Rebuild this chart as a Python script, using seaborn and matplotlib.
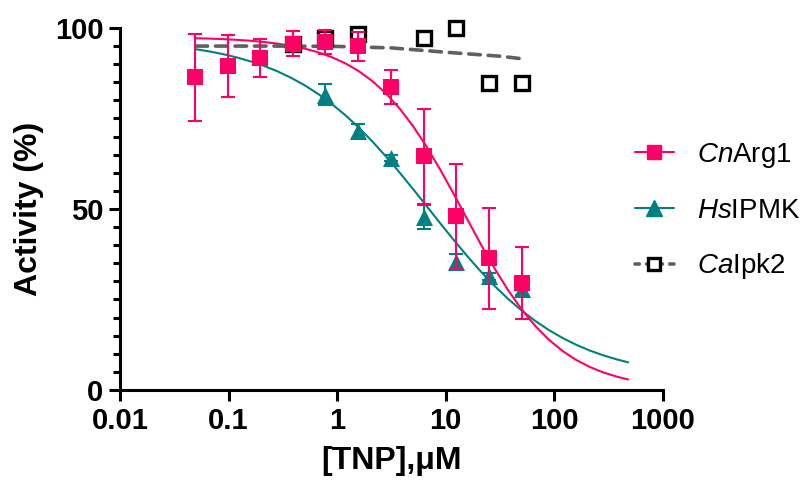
import numpy as np
import pandas as pd
import matplotlib
matplotlib.use("Agg")
import matplotlib.pyplot as plt
import seaborn as sns
from matplotlib.lines import Line2D
from matplotlib.ticker import FixedLocator, MultipleLocator, FixedFormatter

# Concentrations of TNP (uM), two-fold dilution series
conc = [0.049, 0.098, 0.195, 0.39, 0.78, 1.5625, 3.125, 6.25, 12.5, 25, 50]

# CnArg1 (pink squares) mean and error
cn_mean = [86.4, 89.5, 91.7, 95.7, 96.1, 95.0, 83.7, 64.5, 48.0, 36.4, 29.6]
cn_err = [12.0, 8.5, 5.3, 3.4, 3.3, 4.0, 4.8, 13.0, 14.5, 14.0, 10.0]

# HsIPMK (teal triangles)
hs_conc = [0.78, 1.5625, 3.125, 6.25, 12.5, 25, 50]
hs_mean = [81.6, 71.6, 64.0, 47.8, 35.3, 31.4, 27.8]
hs_err = [2.8, 2.0, 0.8, 3.2, 2.2, 1.0, 1.5]

# CaIpk2 (open black squares)
ca_conc = [0.39, 0.78, 1.5625, 6.25, 12.5, 25, 50]
ca_mean = [95.7, 97.3, 98.4, 97.2, 100.0, 84.7, 84.9]

# fitted curves (log10 of concentration)
fit_logx = [-1.3, -1.175, -1.05, -0.925, -0.8, -0.675, -0.55, -0.425, -0.3,
            -0.175, -0.05, 0.075, 0.2, 0.325, 0.45, 0.575, 0.7, 0.825, 0.95,
            1.075, 1.2, 1.325, 1.45, 1.575, 1.7, 1.825, 1.95, 2.075, 2.2,
            2.325, 2.45, 2.575, 2.68]
cn_fit = [97.17, 97.06, 96.92, 96.72, 96.47, 96.13, 95.68, 95.09, 94.30,
          93.28, 91.95, 90.24, 88.06, 85.31, 81.90, 77.74, 72.83, 67.15, 60.84,
          54.06, 47.07, 40.14, 33.56, 27.53, 22.22, 17.67, 13.88, 10.79, 8.32,
          6.38, 4.86, 3.69, 2.92]
hs_fit = [94.13, 93.51, 92.77, 91.87, 90.80, 89.53, 88.03, 86.25, 84.18,
          81.78, 79.03, 75.92, 72.45, 68.62, 64.47, 60.07, 55.47, 50.76, 46.03,
          41.39, 36.91, 32.67, 28.74, 25.15, 21.92, 19.06, 16.55, 14.38, 12.51,
          10.92, 9.58, 8.45, 7.64]
ca_fit_logx = [-1.3, -1.0, -0.5, 0.0, 0.5, 1.0, 1.5, 1.7]
ca_fit = [95.0, 95.0, 95.0, 94.9, 94.5, 93.3, 92.2, 91.5]

x_ticks = [0.01, 0.1, 1, 10, 100, 1000]
x_tick_labels = ["0.01", "0.1", "1", "10", "100", "1000"]
y_ticks = [0, 50, 100]

PINK = "#FF0066"
TEAL = "#008080"
GRAY = "#606060"

sns.set_style("ticks")
plt.rcParams["font.family"] = ["Liberation Sans", "DejaVu Sans"]
plt.rcParams["mathtext.fontset"] = "custom"
plt.rcParams["mathtext.rm"] = "Liberation Sans"
plt.rcParams["mathtext.it"] = "Liberation Sans:italic"
for key in ["text.color", "axes.labelcolor", "xtick.color", "ytick.color", "axes.edgecolor"]:
    plt.rcParams[key] = "black"

fig = plt.figure(figsize=(8.02, 4.84), dpi=100)
ax = fig.add_axes([0.1496, 0.1942, 0.677, 0.748])

# fitted curves
cn_curve = pd.DataFrame({"x": np.power(10.0, fit_logx), "y": cn_fit})
hs_curve = pd.DataFrame({"x": np.power(10.0, fit_logx), "y": hs_fit})
ca_curve = pd.DataFrame({"x": np.power(10.0, ca_fit_logx), "y": ca_fit})

sns.lineplot(data=hs_curve, x="x", y="y", color=TEAL, linewidth=1.5, ax=ax, zorder=2)
sns.lineplot(data=cn_curve, x="x", y="y", color=PINK, linewidth=1.5, ax=ax, zorder=3)
sns.lineplot(data=ca_curve, x="x", y="y", color=GRAY, linewidth=2.6, ax=ax, zorder=4,
             dashes=False)
ax.lines[-1].set_dashes([3.2, 2.2])
ax.lines[-1].set_dash_capstyle("round")

# CaIpk2 points
ax.plot(ca_conc, ca_mean, linestyle="none", marker="s", markersize=10.5,
        markerfacecolor="white", markeredgecolor="black", markeredgewidth=2.4,
        zorder=5, clip_on=False)

# HsIPMK points with error bars
ax.errorbar(hs_conc, hs_mean, yerr=hs_err, fmt="none", ecolor=TEAL,
            elinewidth=1.5, capsize=5.2, capthick=1.5, zorder=6)
sns.scatterplot(x=hs_conc, y=hs_mean, marker="^", s=150, color=TEAL,
                edgecolor=TEAL, linewidth=0, ax=ax, zorder=7)

# CnArg1 points with error bars
ax.errorbar(conc, cn_mean, yerr=cn_err, fmt="none", ecolor=PINK,
            elinewidth=1.5, capsize=5.2, capthick=1.5, zorder=8, clip_on=False)
sns.scatterplot(x=conc, y=cn_mean, marker="s", s=120, color=PINK,
                edgecolor=PINK, linewidth=0, ax=ax, zorder=9, clip_on=False)

ax.set_xscale("log")
ax.set_xlim(0.01, 1000)
ax.set_ylim(0, 100)
ax.xaxis.set_major_locator(FixedLocator(x_ticks))
ax.xaxis.set_major_formatter(FixedFormatter(x_tick_labels))
ax.xaxis.set_minor_locator(FixedLocator([]))
ax.yaxis.set_major_locator(FixedLocator(y_ticks))
ax.yaxis.set_minor_locator(MultipleLocator(5))

for s in ["top", "right"]:
    ax.spines[s].set_visible(False)
for s in ["left", "bottom"]:
    ax.spines[s].set_linewidth(2.2)

ax.tick_params(axis="both", which="major", length=8, width=2.2, labelsize=21, pad=4)
ax.tick_params(axis="y", which="minor", length=5, width=2.2)
for lab in ax.get_xticklabels() + ax.get_yticklabels():
    lab.set_fontweight("bold")

ax.set_xlabel("[TNP],μM", fontsize=23, fontweight="bold", labelpad=8)
ax.set_ylabel("Activity (%)", fontsize=23, fontweight="bold", labelpad=8)

handles = [
    Line2D([], [], color=PINK, linewidth=1.5, marker="s", markersize=10.5,
           markerfacecolor=PINK, markeredgecolor=PINK),
    Line2D([], [], color=TEAL, linewidth=1.5, marker="^", markersize=11,
           markerfacecolor=TEAL, markeredgecolor=TEAL),
    Line2D([], [], color=GRAY, linewidth=2.6, dashes=[1.2, 2.0], dash_capstyle="round",
           marker="s", markersize=9, markerfacecolor="white",
           markeredgecolor="black", markeredgewidth=2.4),
]
labels = [r"$\it{Cn}$Arg1", r"$\it{Hs}$IPMK", r"$\it{Ca}$Ipk2"]
ax.legend(handles, labels, loc="center left", bbox_to_anchor=(0.902, 0.494),
          frameon=False, fontsize=20, handlelength=1.4, handletextpad=0.85,
          labelspacing=1.0)

fig.savefig("out.png", dpi=100)
